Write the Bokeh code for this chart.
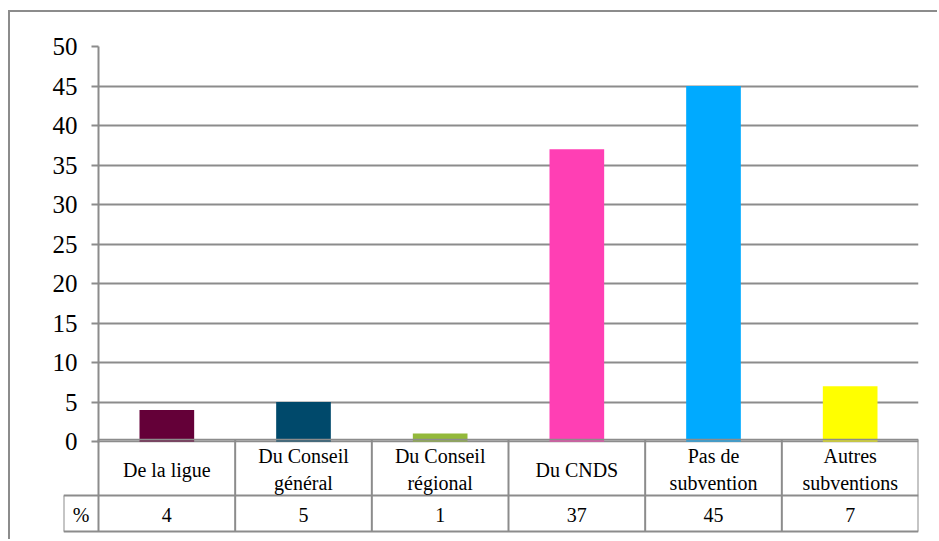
from bokeh.plotting import figure
from bokeh.layouts import column
from bokeh.models import Range1d, FixedTicker, ColumnDataSource
from bokeh.core.properties import value
from bokeh.embed import file_html
from bokeh.resources import INLINE

# ---- data ----
categories = ["De la ligue", "Du Conseil\ngénéral", "Du Conseil\nrégional",
              "Du CNDS", "Pas de\nsubvention", "Autres\nsubventions"]
values = [4, 5, 1, 37, 45, 7]
colors = ["#640038", "#00496b", "#93b93a", "#ff3fb4", "#00aaff", "#ffff00"]
row_label = "%"
y_ticks = [0, 5, 10, 15, 20, 25, 30, 35, 40, 45, 50]

FONT = "Liberation Serif"
GRID = "#8c8c8c"
n = len(categories)
xpos = [i + 0.5 for i in range(n)]
PX = 50 / 395.0          # chart units per pixel
lab_w = 35 / 136.67      # width of the row-label cell, in category units

# ---- chart ----
p = figure(width=929, height=452, output_backend="svg", toolbar_location=None,
           x_range=Range1d(0, n), y_range=Range1d(-1 * PX, 50),
           min_border_left=88, min_border_right=21, min_border_top=34,
           min_border_bottom=22, frame_align=False)
p.styles = {"margin-left": "8px", "margin-top": "10px",
            "border-top": "2px solid #8c8c8c", "border-left": "2px solid #8c8c8c"}
p.outline_line_color = None
p.xaxis.visible = False
p.xgrid.visible = False
p.ygrid.ticker = FixedTicker(ticks=y_ticks)
p.ygrid.grid_line_color = GRID
p.ygrid.grid_line_width = 2
yax = p.yaxis[0]
yax.ticker = FixedTicker(ticks=y_ticks)
yax.axis_line_color = GRID
yax.axis_line_width = 2
yax.major_tick_line_color = GRID
yax.major_tick_line_width = 2
yax.major_tick_out = 7
yax.major_tick_in = 0
yax.minor_tick_line_color = None
yax.major_label_text_font = FONT
yax.major_label_text_font_size = "25px"
yax.major_label_text_color = "#000000"
yax.major_label_standoff = 14

src = ColumnDataSource(dict(x=xpos, top=values, color=colors))
p.vbar(x="x", top="top", bottom=0, width=0.4, color="color", source=src,
       line_color=None)

# ---- data table (pixel units vertically) ----
t = figure(width=929, height=101, output_backend="svg", toolbar_location=None,
           x_range=Range1d(-lab_w, n), y_range=Range1d(0, 101),
           min_border_left=53, min_border_right=21, min_border_top=0,
           min_border_bottom=0, frame_align=False)
t.styles = {"margin-left": "8px", "margin-top": "-24px",
            "border-left": "2px solid #8c8c8c"}
t.background_fill_color = None
t.border_fill_color = None
t.outline_line_color = None
t.axis.visible = False
t.grid.visible = False

row_top, row_mid, row_bot = 100, 44, 8
x0s = [0, -lab_w, -lab_w, -lab_w] + list(range(n + 1))
x1s = [n, n, n, -lab_w] + list(range(n + 1))
y0s = [row_top, row_mid, row_bot, row_mid] + [row_top] * (n + 1)
y1s = [row_top, row_mid, row_bot, row_bot] + [row_bot] * (n + 1)
t.segment(x0=x0s, y0=y0s, x1=x1s, y1=y1s, line_color=GRID, line_width=2)

t.text(x=xpos, y=[70] * n, text=categories, text_font=value(FONT),
       text_font_size="20px", text_align="center", text_baseline="middle",
       text_color="#000000", text_line_height=1.25)
t.text(x=xpos + [-lab_w / 2], y=[25] * (n + 1),
       text=[str(v) for v in values] + [row_label], text_font=value(FONT),
       text_font_size="20px", text_align="center", text_baseline="middle",
       text_color="#000000")

layout = column(p, t, spacing=0)
open("out.html", "w").write(file_html(layout, INLINE))
